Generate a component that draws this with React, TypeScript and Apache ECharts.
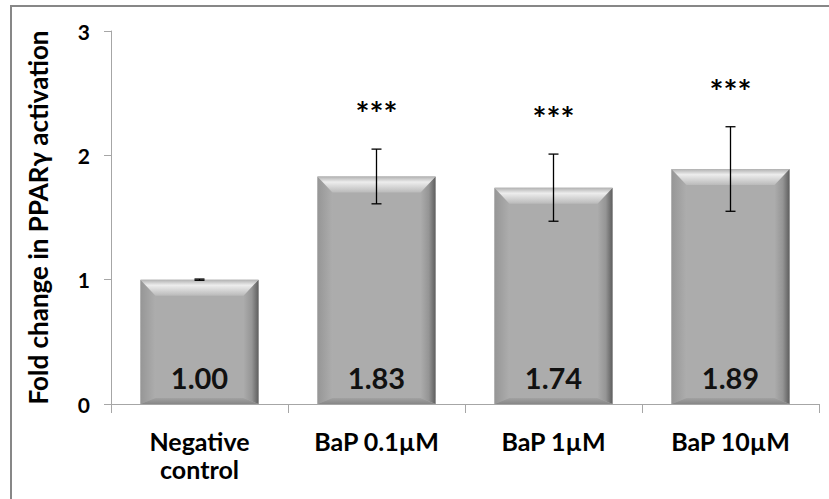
import React, { useEffect, useRef } from "react";
import * as echarts from "echarts";

const categories = ["Negative\ncontrol", "BaP 0.1µM", "BaP 1µM", "BaP 10µM"];
const values = [1.0, 1.83, 1.74, 1.89];
const errors = [0.005, 0.22, 0.27, 0.34];
const significance = ["", "***", "***", "***"];
const yTicks = [0, 1, 2, 3];

const FONT = "Lato, 'Open Sans', sans-serif";
const BAR_FRAC = 0.667;

export default function App() {
  const ref = useRef<HTMLDivElement>(null);

  useEffect(() => {
    if (!ref.current) return;
    const chart = echarts.init(ref.current, null, { renderer: "svg" });

    const barData = values.map((v, i) => [i, v]);
    const errData = values.map((v, i) => [i, v, errors[i]]);

    const option: any = {
      animation: false,
      backgroundColor: "#ffffff",
      grid: { left: 111, right: 10, top: 31, bottom: 95, containLabel: false },
      graphic: [
        {
          type: "line",
          shape: { x1: 10, y1: 6, x2: 829, y2: 6 },
          style: { stroke: "#878787", lineWidth: 2 },
          z: 100,
        },
        {
          type: "line",
          shape: { x1: 11, y1: 5, x2: 11, y2: 499 },
          style: { stroke: "#878787", lineWidth: 2 },
          z: 100,
        },
      ],
      xAxis: {
        type: "category",
        data: categories,
        boundaryGap: true,
        axisLine: { show: true, lineStyle: { color: "#a6a6a6", width: 1 } },
        axisTick: { show: true, alignWithLabel: false, length: 9, lineStyle: { color: "#a6a6a6" } },
        axisLabel: {
          color: "#000",
          fontFamily: FONT,
          fontWeight: "bold",
          fontSize: 25,
          lineHeight: 28,
          margin: 23,
          interval: 0,
        },
        splitLine: { show: false },
      },
      yAxis: {
        type: "value",
        min: yTicks[0],
        max: yTicks[yTicks.length - 1],
        interval: 1,
        name: "Fold change in PPARγ activation",
        nameLocation: "middle",
        nameGap: 60,
        nameTextStyle: {
          color: "#000",
          fontFamily: FONT,
          fontWeight: "bold",
          fontSize: 26,
        },
        axisLine: { show: true, lineStyle: { color: "#a6a6a6", width: 1 } },
        axisTick: { show: true, length: 7, lineStyle: { color: "#a6a6a6" } },
        axisLabel: {
          color: "#000",
          fontFamily: FONT,
          fontWeight: "bold",
          fontSize: 21,
          margin: 21,
        },
        splitLine: { show: false },
      },
      series: [
        {
          type: "custom",
          name: "bars",
          data: barData,
          encode: { x: 0, y: 1 },
          z: 2,
          renderItem: (params: any, api: any) => {
            const idx = api.value(0);
            const v = api.value(1);
            const top = api.coord([idx, v]);
            const base = api.coord([idx, 0]);
            const bw = api.size([1, 0])[0] * BAR_FRAC;
            const x0 = top[0] - bw / 2;
            const x1 = top[0] + bw / 2;
            const y0 = top[1];
            const y1 = base[1];
            const b = 15;
            const bv = 16;
            return {
              type: "group",
              children: [
                {
                  type: "rect",
                  shape: { x: x0, y: y0, width: bw, height: y1 - y0 },
                  style: { fill: "#acacac" },
                },
                {
                  type: "polygon",
                  shape: { points: [[x0, y0], [x0 + b, y0 + bv], [x0 + b, y1 - 6], [x0, y1]] },
                  style: {
                    fill: new echarts.graphic.LinearGradient(0, 0, 1, 0, [
                      { offset: 0, color: "#969696" },
                      { offset: 1, color: "#adadad" },
                    ]),
                  },
                },
                {
                  type: "polygon",
                  shape: { points: [[x1, y0], [x1 - b, y0 + bv], [x1 - b, y1 - 6], [x1, y1]] },
                  style: {
                    fill: new echarts.graphic.LinearGradient(0, 0, 1, 0, [
                      { offset: 0, color: "#acacac" },
                      { offset: 0.55, color: "#959595" },
                      { offset: 1, color: "#5e5e5e" },
                    ]),
                  },
                },
                {
                  type: "polygon",
                  shape: { points: [[x0, y1], [x0 + b, y1 - 6], [x1 - b, y1 - 6], [x1, y1]] },
                  style: {
                    fill: new echarts.graphic.LinearGradient(0, 0, 0, 1, [
                      { offset: 0, color: "#a2a2a2" },
                      { offset: 1, color: "#878787" },
                    ]),
                  },
                },
                {
                  type: "polygon",
                  shape: { points: [[x0, y0], [x1, y0], [x1 - b, y0 + bv], [x0 + b, y0 + bv]] },
                  style: {
                    fill: new echarts.graphic.LinearGradient(0, 0, 0, 1, [
                      { offset: 0, color: "#b0b0b0" },
                      { offset: 0.35, color: "#ededed" },
                      { offset: 1, color: "#bababa" },
                    ]),
                  },
                },
                {
                  type: "text",
                  x: top[0],
                  y: y1 - 27,
                  style: {
                    text: values[idx].toFixed(2),
                    fill: "#111",
                    fontFamily: FONT,
                    fontWeight: "bold",
                    fontSize: 29,
                    align: "center",
                    verticalAlign: "middle",
                  },
                },
              ],
            };
          },
        },
        {
          type: "custom",
          name: "errors",
          data: errData,
          encode: { x: 0, y: 1 },
          z: 5,
          renderItem: (params: any, api: any) => {
            const idx = api.value(0);
            const v = api.value(1);
            const e = api.value(2);
            const hi = api.coord([idx, v + e]);
            const lo = api.coord([idx, v - e]);
            const cap = 5;
            const children: any[] = [
              { type: "line", shape: { x1: hi[0], y1: hi[1], x2: lo[0], y2: lo[1] }, style: { stroke: "#000", lineWidth: 1.3 } },
              { type: "line", shape: { x1: hi[0] - cap, y1: hi[1], x2: hi[0] + cap, y2: hi[1] }, style: { stroke: "#000", lineWidth: 1.3 } },
              { type: "line", shape: { x1: lo[0] - cap, y1: lo[1], x2: lo[0] + cap, y2: lo[1] }, style: { stroke: "#000", lineWidth: 1.3 } },
            ];
            if (significance[idx]) {
              children.push({
                type: "text",
                x: hi[0],
                y: hi[1] - 36,
                style: {
                  text: significance[idx],
                  fill: "#000",
                  fontFamily: FONT,
                  fontWeight: "bold",
                  fontSize: 33,
                  align: "center",
                  verticalAlign: "middle",
                },
              });
            }
            return { type: "group", children };
          },
        },
      ],
    };

    chart.setOption(option);
    return () => chart.dispose();
  }, []);

  return (
    <div
      ref={ref}
      style={{ position: "fixed", left: 0, top: 0, width: 829, height: 499, background: "#fff" }}
    />
  );
}
